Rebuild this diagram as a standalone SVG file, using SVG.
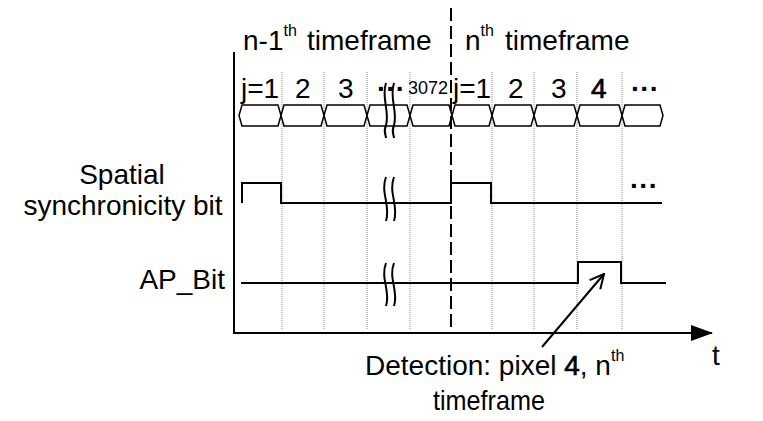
<svg xmlns="http://www.w3.org/2000/svg" width="763" height="421" viewBox="0 0 763 421">
<defs>
<style>
text{font-family:"Liberation Sans",Arial,sans-serif;fill:#000}
.t28{font-size:28px}
.sup{font-size:16px}
.sm{font-size:18px}
.b{stroke:#000;stroke-width:0.7}
.dots{font-weight:bold}
.cell{fill:#fff;stroke:#000;stroke-width:1.5}
.grid{stroke:#8c8c8c;stroke-width:1;stroke-dasharray:1 1;fill:none}
.sig{fill:none;stroke:#000;stroke-width:2}
.wave{fill:none;stroke:#000;stroke-width:2}
.axis{fill:none;stroke:#000;stroke-width:2}
</style>
<marker id="tri" viewBox="0 0 22 16" refX="21" refY="8" markerWidth="22" markerHeight="16" markerUnits="userSpaceOnUse" orient="auto">
<path d="M0,0 L22,8 L0,16 Z" fill="#000"/>
</marker>
<marker id="vee" viewBox="0 0 16 16" refX="15" refY="8" markerWidth="16" markerHeight="16" markerUnits="userSpaceOnUse" orient="auto">
<path d="M1,1 L15,8 L1,15" fill="none" stroke="#000" stroke-width="2"/>
</marker>
</defs>
<rect width="763" height="421" fill="#fff"/>

<g id="grid">
<line class="grid" x1="282" y1="72" x2="282" y2="330"/>
<line class="grid" x1="324" y1="72" x2="324" y2="330"/>
<line class="grid" x1="367" y1="72" x2="367" y2="330"/>
<line class="grid" x1="410" y1="72" x2="410" y2="330"/>
<line class="grid" x1="492" y1="72" x2="492" y2="330"/>
<line class="grid" x1="534" y1="72" x2="534" y2="330"/>
<line class="grid" x1="577" y1="72" x2="577" y2="330"/>
<line class="grid" x1="622" y1="72" x2="622" y2="330"/>
</g>

<g id="bus">
<path class="cell" d="M239,115.5 L242,105 H278 L281,115.5 L278,126 H242 Z"/>
<path class="cell" d="M281,115.5 L284,105 H321 L324,115.5 L321,126 H284 Z"/>
<path class="cell" d="M324,115.5 L327,105 H364 L367,115.5 L364,126 H327 Z"/>
<path class="cell" d="M367,115.5 L370,105 H407 L410,115.5 L407,126 H370 Z"/>
<path class="cell" d="M410,115.5 L413,105 H449 L452,115.5 L449,126 H413 Z"/>
<path class="cell" d="M452,115.5 L455,105 H489 L492,115.5 L489,126 H455 Z"/>
<path class="cell" d="M492,115.5 L495,105 H531 L534,115.5 L531,126 H495 Z"/>
<path class="cell" d="M534,115.5 L537,105 H574 L577,115.5 L574,126 H537 Z"/>
<path class="cell" d="M577,115.5 L580,105 H619 L622,115.5 L619,126 H580 Z"/>
<path class="cell" d="M622,115.5 L625,105 H660 L663,115.5 L660,126 H625 Z"/>
</g>

<g id="divider">
<line x1="451" y1="8" x2="451" y2="330" stroke="#000" stroke-width="2" stroke-dasharray="13 5"/>
</g>

<g id="axes">
<line class="axis" x1="234" y1="52" x2="234" y2="334"/>
<line class="axis" x1="233" y1="333" x2="712" y2="333" marker-end="url(#tri)"/>
<text class="t28" x="712" y="365">t</text>
</g>

<g id="sync-signal">
<path class="sig" d="M242,203 V183 H281 V203 H451 V183 H491 V203 H662"/>
<text class="t28 dots" x="630" y="195">···</text>
</g>

<g id="ap-signal">
<path class="sig" d="M241,283 H578 V262 H621 V283 H666"/>
</g>

<g id="breaks">
<path class="wave" d="M386,83 C381,98 390,112 386,125 C383,132 386,135 386,138"/>
<path class="wave" d="M394,83 C389,98 398,112 394,125 C391,132 394,135 394,138"/>
<path class="wave" d="M386,177 C380,192 391,206 386,221"/>
<path class="wave" d="M394,177 C388,192 399,206 394,221"/>
<path class="wave" d="M386,263 C380,278 391,292 386,306"/>
<path class="wave" d="M394,263 C388,278 399,292 394,306"/>
</g>

<g id="titles">
<text class="t28" x="243" y="50">n-1<tspan class="sup" dy="-14">th</tspan><tspan dy="14" x="307">timeframe</tspan></text>
<text class="t28" x="465" y="50">n<tspan class="sup" dy="-14">th</tspan><tspan dy="14" x="505">timeframe</tspan></text>
</g>

<g id="cell-labels">
<text class="t28" x="241" y="98">j=1</text>
<text class="t28" x="295" y="98">2</text>
<text class="t28" x="338" y="98">3</text>
<text class="t28 dots" x="377" y="98">···</text>
<text class="sm" x="408" y="94">3072</text>
<text class="t28" x="453" y="98">j=1</text>
<text class="t28" x="508" y="98">2</text>
<text class="t28" x="551" y="98">3</text>
<text class="t28 b" x="591" y="98">4</text>
<text class="t28 dots" x="631" y="98">···</text>
</g>

<g id="row-labels">
<text class="t28" x="122" y="184" text-anchor="middle">Spatial</text>
<text class="t28" x="123" y="215" text-anchor="middle">synchronicity bit</text>
<text class="t28" x="225" y="289" text-anchor="end">AP_Bit</text>
</g>

<g id="detection">
<line x1="542" y1="347" x2="604" y2="274" stroke="#000" stroke-width="2" marker-end="url(#vee)"/>
<text class="t28" x="365" y="375">Detection: pixel <tspan class="b">4</tspan>, n<tspan class="sup" dy="-14">th</tspan></text>
<text class="t28" x="433" y="410" textLength="112" lengthAdjust="spacingAndGlyphs">timeframe</text>
</g>
</svg>
